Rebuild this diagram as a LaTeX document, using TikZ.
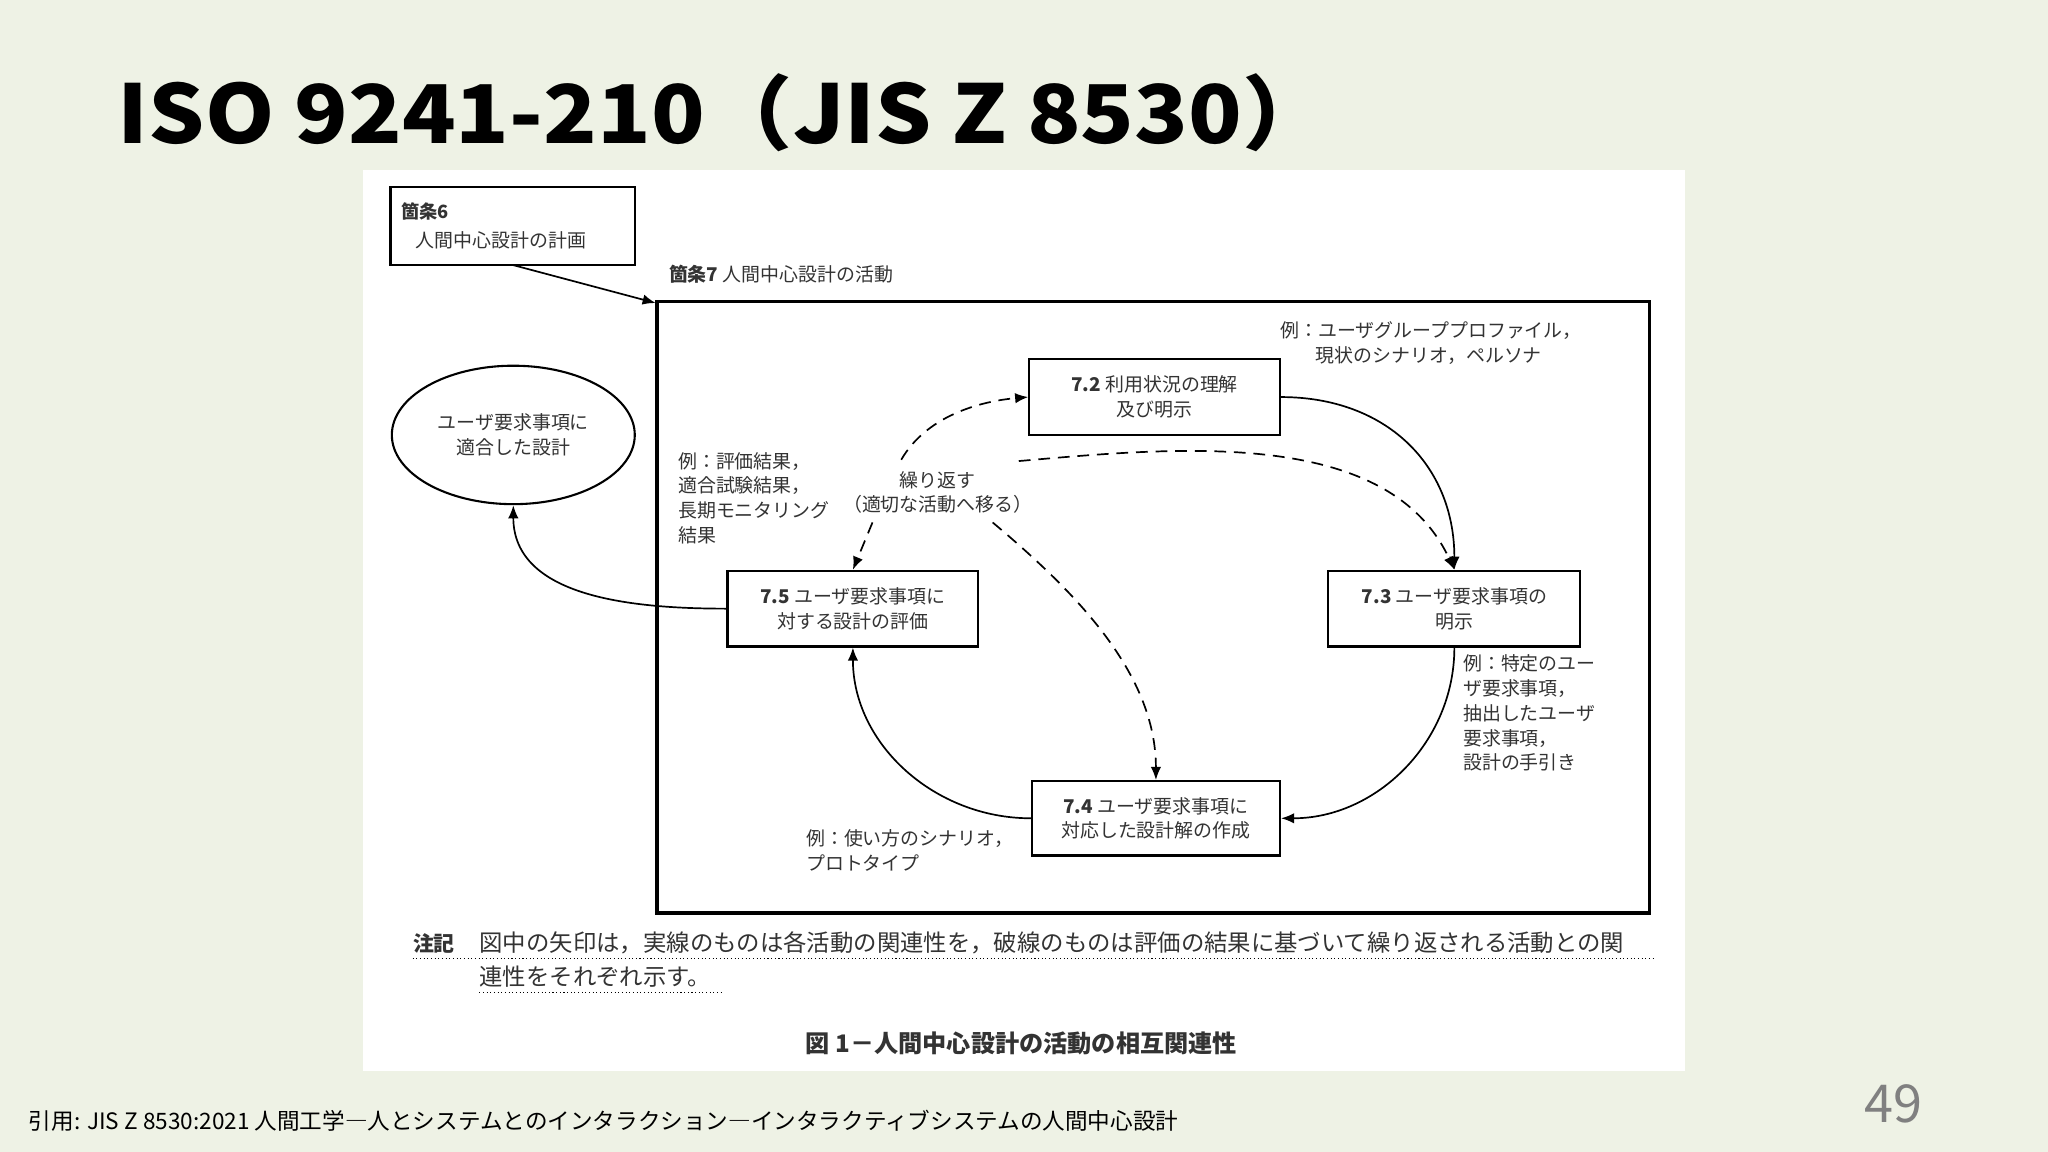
\documentclass[tikz,border=0pt]{standalone}
\usepackage{fontspec}
\setmainfont{Noto Sans CJK JP}
\usetikzlibrary{arrows.meta,shapes.geometric}
\definecolor{bgc}{HTML}{EEF2E5}
\definecolor{txt}{HTML}{333333}
\tikzset{
 every node/.style={inner sep=0pt,font=\fontsize{14.5}{19}\selectfont,text=txt},
 box/.style={draw,line width=1.6pt,align=center},
 arr/.style={line width=1.3pt,-{Latex[length=10pt,width=8pt]}},
 darr/.style={arr,dash pattern=on 9pt off 6pt},
}
\begin{document}
\begin{tikzpicture}[x=1pt,y=-1pt]
\fill[bgc] (0,0) rectangle (1568,882);
\useasboundingbox (0,0) rectangle (1568,882);
\node[anchor=base west,font=\fontsize{62}{62}\selectfont\bfseries,text=black,xscale=1.09] (title) at (90,110) {ISO 9241-210（JIS Z 8530）};
\fill[white] (278,130) rectangle (1290,820);
% boxes
\node[box,minimum width=187pt,minimum height=60pt] (c6) at (392.5,173) {};
\node[anchor=west,font=\fontsize{14}{16}\selectfont\bfseries] (c6a) at (307,162) {箇条6};
\node[anchor=west] (c6b) at (318,184) {人間中心設計の計画};
\draw[line width=2.4pt] (503,231) rectangle (1263,699);
\coordinate (c7corner) at (502,232);
\coordinate (c6s) at (393,203);
\node[anchor=west] (c7) at (512,210) {\textbf{箇条7}\ 人間中心設計の活動};
\draw[arr] (c6s) -- (c7corner);
\node[draw,ellipse,line width=1.6pt,minimum width=186pt,minimum height=106pt,align=center] (ell) at (393,333) {ユーザ要求事項に\\適合した設計};
\node[box,minimum width=192pt,minimum height=58pt] (b72) at (884,304) {\textbf{7.2} 利用状況の理解\\及び明示};
\node[box,minimum width=193pt,minimum height=58pt] (b73) at (1113.5,466) {\textbf{7.3} ユーザ要求事項の\\明示};
\node[box,minimum width=190pt,minimum height=57pt] (b74) at (885,626.5) {\textbf{7.4} ユーザ要求事項に\\対応した設計解の作成};
\node[box,minimum width=192pt,minimum height=58pt] (b75) at (653,466) {\textbf{7.5} ユーザ要求事項に\\対する設計の評価};
% solid arrows
\draw[arr] (b72.east) to[out=0,in=90,looseness=1.1] (b73.north);
\draw[arr] (b73.south) to[out=-90,in=0,looseness=1.0] (b74.east);
\draw[arr] (b74.west) to[out=180,in=-90,looseness=1.0] (b75.south);
\draw[arr] (b75.west) to[out=180,in=-90,looseness=1.0] (ell.south);
% dashed arrows
\coordinate (d1) at (690,352);
\coordinate (d2) at (780,353);
\coordinate (d3) at (760,400);
\coordinate (d4) at (668,400);
\draw[darr] (d1) to[out=60,in=185,looseness=0.9] (b72.west);
\draw[darr] (d2) to[out=5,in=115,looseness=0.9] (b73.north);
\draw[darr] (d3) to[out=-40,in=90,looseness=0.9] (b74.north);
\draw[darr] (d4) -- (b75.north);
% labels
\node[align=center] (rep) at (718,377) {繰り返す\\（適切な活動へ移る）};
\node[anchor=north west,align=left] (ex5) at (519,346) {例：評価結果，\\適合試験結果，\\長期モニタリング\\結果};
\node[anchor=north west,align=left] (ex2) at (980,246) {例：ユーザグループプロファイル，\\\hspace*{27pt}現状のシナリオ，ペルソナ};
\node[anchor=north west,align=left] (ex3) at (1120,501) {例：特定のユー\\ザ要求事項，\\抽出したユーザ\\要求事項，\\設計の手引き};
\node[anchor=north west,align=left] (ex4) at (617,635) {例：使い方のシナリオ，\\プロトタイプ};
% note
\node[anchor=west,font=\fontsize{16}{18}\selectfont\bfseries] (nt) at (316,722) {注記};
\node[anchor=west,font=\fontsize{17.9}{18}\selectfont] (n1) at (367,722) {図中の矢印は，実線のものは各活動の関連性を，破線のものは評価の結果に基づいて繰り返される活動との関};
\node[anchor=west,font=\fontsize{17.9}{18}\selectfont] (n2) at (367,748) {連性をそれぞれ示す。};
\draw[dotted,line width=0.8pt] (316,734) -- (1266,734);
\draw[dotted,line width=0.8pt] (367,760) -- (552,760);
\node[font=\fontsize{18.5}{20}\selectfont\bfseries] (cap) at (782,799) {図 1－人間中心設計の活動の相互関連性};
\node[anchor=west,font=\fontsize{17.3}{18}\selectfont,text=black] (foot) at (22,858) {引用: JIS Z 8530:2021 人間工学―人とシステムとのインタラクション―インタラクティブシステムの人間中心設計};
\node[font=\fontsize{40}{40}\selectfont,text=gray] (pg) at (1450,845) {49};
\end{tikzpicture}
\end{document}
